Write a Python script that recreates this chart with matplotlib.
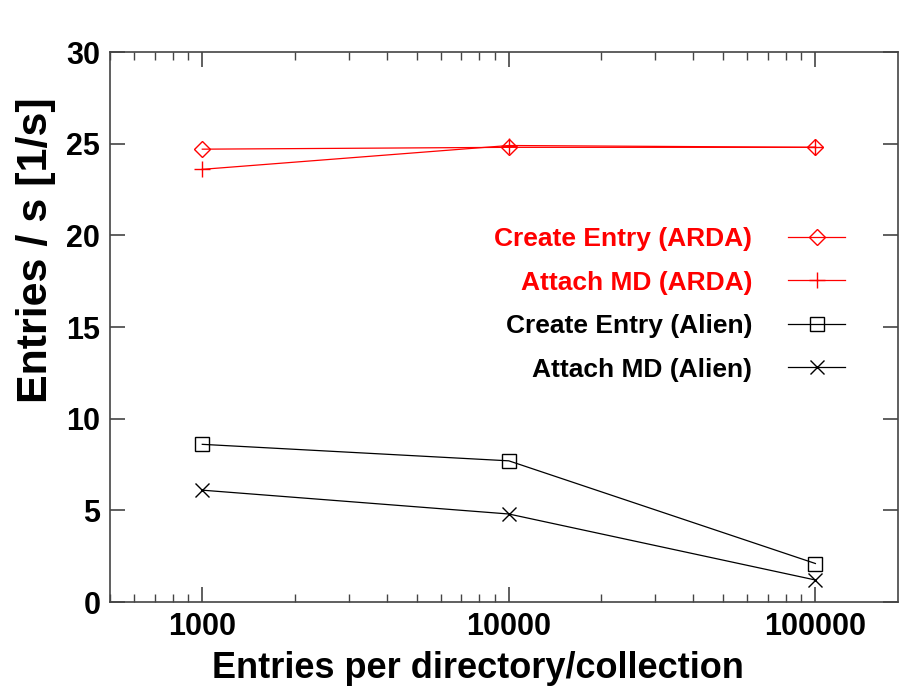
import matplotlib
matplotlib.use("Agg")
import matplotlib.pyplot as plt
from matplotlib.ticker import FixedLocator, FixedFormatter, LogLocator, NullFormatter

plt.rcParams['font.family'] = ['Liberation Sans', 'DejaVu Sans']

entries = [1000, 10000, 100000]
create_arda = [24.7, 24.8, 24.8]
attach_arda = [23.6, 24.9, 24.8]
create_alien = [8.6, 7.7, 2.1]
attach_alien = [6.1, 4.8, 1.2]
labels = ["Create Entry (ARDA)", "Attach MD (ARDA)", "Create Entry (Alien)", "Attach MD (Alien)"]
xtick_labels = ["1000", "10000", "100000"]
yticks = [0, 5, 10, 15, 20, 25, 30]

fig = plt.figure(figsize=(8.99, 6.93), dpi=100)
ax = fig.add_axes([110/899, 1-602/693, (898-110)/899, (602-52)/693])

lw = 0.9
ax.plot(entries, create_arda, color='red', lw=lw, marker='D', ms=8, mfc='none', mec='red', mew=1.0, label=labels[0])
ax.plot(entries, attach_arda, color='red', lw=lw, marker='+', ms=12, mew=1.0, label=labels[1])
ax.plot(entries, create_alien, color='black', lw=lw, marker='s', ms=10, mfc='none', mec='black', mew=1.0, label=labels[2])
ax.plot(entries, attach_alien, color='black', lw=lw, marker='x', ms=10, mew=1.0, label=labels[3])

ax.set_xscale('log')
ax.set_xlim(500, 186000)
ax.set_ylim(0, 30)
ax.xaxis.set_major_locator(FixedLocator(entries))
ax.xaxis.set_major_formatter(FixedFormatter(xtick_labels))
ax.xaxis.set_minor_locator(LogLocator(base=10, subs=range(2, 10)))
ax.xaxis.set_minor_formatter(NullFormatter())
ax.set_yticks(yticks)
ax.set_yticklabels([str(v) for v in yticks])

spine_col = '#444444'
for s in ax.spines.values():
    s.set_color(spine_col)
    s.set_linewidth(1.2)
ax.tick_params(which='major', direction='in', length=11, width=1.2, color=spine_col,
               top=True, right=True, labelsize=22, pad=7)
ax.tick_params(which='minor', direction='in', length=6, width=1.0, color=spine_col,
               top=True, right=False)
for lab in ax.get_xticklabels() + ax.get_yticklabels():
    lab.set_fontweight('bold')

ax.set_xlabel("Entries per directory/collection", fontsize=26, fontweight='bold')
ax.xaxis.set_label_coords((478-110)/788, -(668-602)/550)
ax.xaxis.label.set_va('center')
ax.set_ylabel("Entries / s [1/s]", fontsize=31, fontweight='bold')
ax.yaxis.set_label_coords(-(110-36)/788, (602-250)/550)
ax.yaxis.label.set_va('center')

leg = ax.legend(loc='upper right', bbox_to_anchor=(845/899, 1-227/693), bbox_transform=fig.transFigure,
                borderaxespad=0, borderpad=0, frameon=False, markerfirst=False,
                handlelength=2.16, labelspacing=0.74, handletextpad=1.36,
                prop={'weight': 'bold', 'size': 19})
for txt, col in zip(leg.get_texts(), ['red', 'red', 'black', 'black']):
    txt.set_color(col)

fig.savefig("out.png", dpi=100)
